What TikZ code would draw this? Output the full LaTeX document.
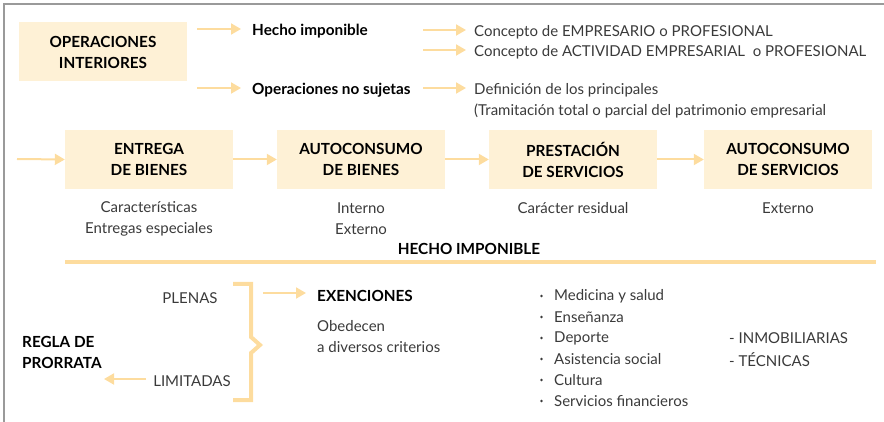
\documentclass[tikz,border=0pt]{standalone}
\usepackage{fontspec}
\setmainfont{Lato}
\usetikzlibrary{arrows.meta}
\definecolor{boxfill}{HTML}{FEF1D6}
\definecolor{arr}{HTML}{FDDC9E}
\definecolor{txt}{HTML}{3A3A3A}
\definecolor{frame}{HTML}{9A9A9A}
\newcommand{\plainfont}{\fontsize{15}{21}\selectfont}
\newcommand{\boldfont}{\bfseries\fontsize{15.3}{21}\selectfont}
\tikzset{
  boxn/.style={fill=boxfill, minimum width=168pt, minimum height=59pt, inner sep=0pt, font=\boldfont, text=black, align=center},
  conn/.style={draw=arr, line width=2pt, -{Triangle[length=10pt,width=11pt]}},
  plain/.style={inner sep=0pt, font=\plainfont, text=txt, yshift=-1.2pt},
  bold/.style={inner sep=0pt, font=\boldfont, text=black, yshift=-1.2pt},
}
\begin{document}
\begin{tikzpicture}[x=1pt,y=-1pt]
\useasboundingbox (0,0) rectangle (884,422);
\draw[frame, line width=1.2pt] (4,422) -- (4,4) -- (884,4);
% top block
\node[boxn] (oi) at (103,52) {OPERACIONES\\INTERIORES};
\coordinate (a1s) at (197,29); \coordinate (a1e) at (241,29);
\coordinate (a2s) at (197,88); \coordinate (a2e) at (241,88);
\draw[conn] (a1s) -- (a1e);
\draw[conn] (a2s) -- (a2e);
\node[bold, anchor=west] (hi) at (252,30) {Hecho imponible};
\node[bold, anchor=west] (ons) at (252,89) {Operaciones no sujetas};
\coordinate (b1s) at (423,30); \coordinate (b1e) at (466,30);
\coordinate (b2s) at (423,50); \coordinate (b2e) at (466,50);
\coordinate (b3s) at (423,88); \coordinate (b3e) at (466,88);
\draw[conn] (b1s) -- (b1e);
\draw[conn] (b2s) -- (b2e);
\draw[conn] (b3s) -- (b3e);
\node[plain, anchor=west] (c1) at (474,31) {Concepto de EMPRESARIO o PROFESIONAL};
\node[plain, anchor=west] (c2) at (474,51) {Concepto de ACTIVIDAD EMPRESARIAL\ \ o PROFESIONAL};
\node[plain, anchor=west] (c3) at (474,89) {Definición de los principales};
\node[plain, anchor=west] (c4) at (474,110) {(Tramitación total o parcial del patrimonio empresarial};
% row 2
\node[boxn] (eb) at (149,159.5) {ENTREGA\\DE BIENES};
\node[boxn] (ab) at (361,159.5) {AUTOCONSUMO\\DE BIENES};
\node[boxn] (ps) at (573,159.5) {PRESTACIÓN\\DE SERVICIOS};
\node[boxn] (as) at (788,159.5) {AUTOCONSUMO\\DE SERVICIOS};
\coordinate (r0) at (17,159);
\draw[conn] (r0) -- (eb.west);
\draw[conn] (eb.east) -- (ab.west);
\draw[conn] (ab.east) -- (ps.west);
\draw[conn] (ps.east) -- (as.west);
\node[plain, align=center] (t1) at (149,217.5) {Características\\Entregas especiales};
\node[plain, align=center] (t2) at (361,217.5) {Interno\\Externo};
\node[plain] (t3) at (573,207) {Carácter residual};
\node[plain] (t4) at (788,207) {Externo};
\node[bold] (hib) at (469,248) {HECHO IMPONIBLE};
\coordinate (l1) at (65,262); \coordinate (l2) at (876,262);
\draw[arr, line width=4pt] (l1) -- (l2);
% row 3
\draw[arr, line width=4pt, line join=miter] (233,284) -- (251,284) -- (251,337) -- (260,345) -- (251,353) -- (251,400) -- (233,400);
\node[plain] (pl) at (190,297) {PLENAS};
\node[plain] (lim) at (192,380) {LIMITADAS};
\node[bold, anchor=west, align=left] (rp) at (22,351.5) {REGLA DE\\PRORRATA};
\coordinate (la) at (146,379); \coordinate (lb) at (104,379);
\draw[conn] (la) -- (lb);
\coordinate (ea) at (263,293); \coordinate (eb2) at (306,293);
\draw[conn] (ea) -- (eb2);
\node[bold, anchor=west] (ex) at (317,295) {EXENCIONES};
\node[plain, anchor=west, align=left] (ob) at (317,335.5) {Obedecen\\a diversos criterios};
\foreach \t [count=\i] in {Medicina y salud, Enseñanza, Deporte, Asistencia social, Cultura, Servicios financieros} {
  \node[plain, anchor=west] (it\i) at (554,{295+21*(\i-1)}) {\t};
  \fill[txt] (541.5,{296+21*(\i-1)}) circle (1.3pt);
}
\node[plain, anchor=west] (inm) at (729,337) {- INMOBILIARIAS};
\node[plain, anchor=west] (tec) at (729,358) {- TÉCNICAS};
\end{tikzpicture}
\end{document}
